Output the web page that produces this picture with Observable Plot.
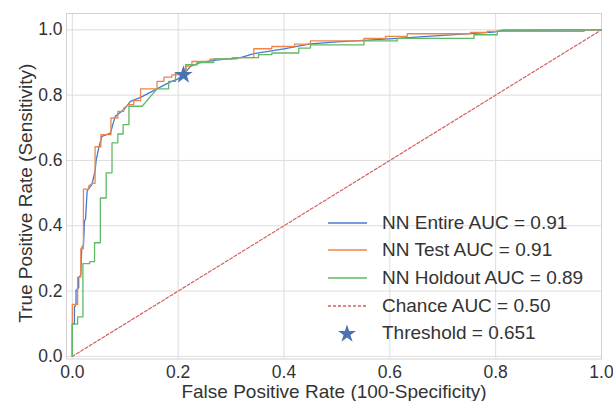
<!DOCTYPE html>
<html>
<head>
<meta charset="utf-8">
<script src="https://cdn.jsdelivr.net/npm/d3@7"></script>
<script src="https://cdn.jsdelivr.net/npm/@observablehq/plot@0.6"></script>
<style>
  html, body { margin: 0; padding: 0; background: #fff; }
  #wrap { position: relative; width: 613px; height: 401px; font-family: "Liberation Sans", Arial, sans-serif; }
  #legend { position: absolute; left: 326px; top: 209px; color: #333; font-size: 19px; }
  #legend .row { display: flex; align-items: center; height: 27.6px; }
  #legend svg { width: 42px; height: 20px; margin-right: 14px; overflow: visible; }
</style>
</head>
<body>
<div id="wrap"><div id="legend"></div></div>
<script>
// ---- data ----
const entireFPR = [0, 0, 0.004, 0.004, 0.007, 0.007, 0.012, 0.012, 0.016, 0.018, 0.021, 0.023, 0.025, 0.028, 0.037, 0.040, 0.043, 0.045, 0.050, 0.056, 0.072, 0.081, 0.097, 0.110, 0.129, 0.160, 0.175, 0.188, 0.200, 0.210, 0.223, 0.242, 0.261, 0.280, 0.318, 0.343, 0.400, 0.450, 0.500, 0.550, 0.614, 0.700, 0.796, 0.812, 1.0];
const entireTPR = [0, 0.100, 0.100, 0.150, 0.160, 0.202, 0.210, 0.240, 0.250, 0.334, 0.340, 0.415, 0.420, 0.507, 0.527, 0.547, 0.568, 0.600, 0.639, 0.674, 0.684, 0.735, 0.755, 0.781, 0.793, 0.819, 0.832, 0.842, 0.850, 0.862, 0.888, 0.900, 0.905, 0.909, 0.915, 0.927, 0.942, 0.957, 0.963, 0.968, 0.974, 0.983, 0.993, 0.999, 1.0];

const testFPR = [0, 0, 0.010, 0.010, 0.016, 0.016, 0.021, 0.021, 0.031, 0.031, 0.038, 0.043, 0.043, 0.054, 0.054, 0.073, 0.073, 0.086, 0.086, 0.097, 0.097, 0.107, 0.116, 0.116, 0.129, 0.129, 0.160, 0.160, 0.173, 0.173, 0.188, 0.188, 0.198, 0.198, 0.215, 0.215, 0.226, 0.226, 0.260, 0.260, 0.302, 0.302, 0.343, 0.343, 0.377, 0.377, 0.420, 0.420, 0.450, 0.450, 0.551, 0.551, 0.592, 0.592, 0.633, 0.633, 0.752, 0.752, 0.784, 0.784, 0.967, 0.967, 1.0];
const testTPR = [0, 0.159, 0.159, 0.243, 0.243, 0.330, 0.330, 0.512, 0.512, 0.522, 0.530, 0.530, 0.642, 0.642, 0.679, 0.679, 0.730, 0.730, 0.750, 0.750, 0.760, 0.771, 0.771, 0.783, 0.783, 0.819, 0.819, 0.842, 0.842, 0.855, 0.855, 0.862, 0.862, 0.869, 0.869, 0.889, 0.889, 0.903, 0.903, 0.910, 0.910, 0.915, 0.915, 0.942, 0.942, 0.949, 0.949, 0.956, 0.956, 0.966, 0.966, 0.974, 0.974, 0.980, 0.980, 0.988, 0.988, 0.992, 0.992, 0.995, 0.995, 1.0, 1.0];

const holdoutFPR = [0, 0, 0.010, 0.010, 0.020, 0.020, 0.033, 0.033, 0.042, 0.042, 0.053, 0.053, 0.064, 0.064, 0.075, 0.075, 0.086, 0.086, 0.096, 0.096, 0.107, 0.107, 0.132, 0.160, 0.182, 0.182, 0.195, 0.195, 0.214, 0.214, 0.236, 0.236, 0.267, 0.267, 0.311, 0.311, 0.352, 0.352, 0.377, 0.377, 0.428, 0.428, 0.450, 0.450, 0.551, 0.551, 0.614, 0.614, 0.759, 0.759, 0.803, 0.803, 0.819, 1.0];
const holdoutTPR = [0, 0.099, 0.099, 0.121, 0.121, 0.284, 0.284, 0.290, 0.290, 0.348, 0.348, 0.485, 0.485, 0.562, 0.562, 0.654, 0.654, 0.681, 0.681, 0.710, 0.710, 0.766, 0.766, 0.819, 0.819, 0.842, 0.842, 0.868, 0.868, 0.893, 0.893, 0.900, 0.900, 0.911, 0.911, 0.915, 0.915, 0.924, 0.924, 0.929, 0.929, 0.944, 0.944, 0.954, 0.954, 0.966, 0.966, 0.974, 0.974, 0.985, 0.985, 0.995, 0.999, 1.0];

const chanceFPR = [0, 1];
const chanceTPR = [0, 1];

const thresholdFPR = [0.210];
const thresholdTPR = [0.862];

const seriesNames = ["NN Entire AUC = 0.91", "NN Test AUC = 0.91", "NN Holdout AUC = 0.89", "Chance AUC = 0.50", "Threshold = 0.651"];
const seriesColors = ["#4878D0", "#EE854A", "#5fb865", "#D65F5F", "#4C72B0"];
const xTicks = [0, 0.2, 0.4, 0.6, 0.8, 1.0];
const yTicks = [0, 0.2, 0.4, 0.6, 0.8, 1.0];
const xLabel = "False Positive Rate (100-Specificity)";
const yLabel = "True Positive Rate (Sensitivity)";

// ---- build tables ----
const toRows = (fx, ty, s) => fx.map((x, i) => ({fpr: x, tpr: ty[i], series: s}));
const curves = [
  ...toRows(entireFPR, entireTPR, seriesNames[0]),
  ...toRows(testFPR, testTPR, seriesNames[1]),
  ...toRows(holdoutFPR, holdoutTPR, seriesNames[2])
];
const chance = toRows(chanceFPR, chanceTPR, seriesNames[3]);
const threshold = toRows(thresholdFPR, thresholdTPR, seriesNames[4]);

const textColor = "#333";
const font = "Liberation Sans, Arial, sans-serif";

const chart = Plot.plot({
  width: 613,
  height: 401,
  marginLeft: 66,
  marginRight: 12,
  marginTop: 13,
  marginBottom: 42.5,
  style: {fontFamily: font, fontSize: "17.5px", color: textColor, background: "#fff"},
  x: {domain: [-0.011, 1.0]},
  y: {domain: [-0.008, 1.05]},
  color: {domain: seriesNames, range: seriesColors},
  marks: [
    Plot.gridX(xTicks, {stroke: "#dddddd", strokeOpacity: 1, strokeWidth: 1}),
    Plot.gridY(yTicks, {stroke: "#dddddd", strokeOpacity: 1, strokeWidth: 1}),
    Plot.frame({stroke: "#d2d2d2", strokeWidth: 1}),
    Plot.axisX({ticks: xTicks, tickFormat: d => d.toFixed(1), tickSize: 0, tickPadding: 7, label: null, fontSize: 17.5, fill: textColor}),
    Plot.axisY({ticks: yTicks, tickFormat: d => d.toFixed(1), tickSize: 0, tickPadding: 4, label: null, fontSize: 17.5, fill: textColor}),
    Plot.text([xLabel], {frameAnchor: "bottom", lineAnchor: "middle", textAnchor: "middle", dy: 33, fontSize: 19, fill: textColor}),
    Plot.text([yLabel], {frameAnchor: "left", lineAnchor: "middle", textAnchor: "middle", dx: -41, dy: 7, rotate: -90, fontSize: 19, fill: textColor}),
    Plot.line(chance, {x: "fpr", y: "tpr", stroke: "series", strokeWidth: 1.2, strokeDasharray: "3,2"}),
    Plot.line(curves, {x: "fpr", y: "tpr", z: "series", stroke: "series", strokeWidth: 1.3}),
    Plot.dot(threshold, {x: "fpr", y: "tpr", fill: "series", symbol: "star", r: 5.8, stroke: "none"})
  ]
});
document.getElementById("wrap").prepend(chart);
chart.style.position = "absolute";
chart.style.left = "0";
chart.style.top = "0";

// ---- legend ----
const legend = document.getElementById("legend");
const starPath = d3.symbol(d3.symbolStar, 101)();
seriesNames.forEach((name, i) => {
  const row = document.createElement("div");
  row.className = "row";
  let sw;
  if (i < 3) sw = `<svg><line x1="2" x2="41" y1="10" y2="10" stroke="${seriesColors[i]}" stroke-width="1.5"/></svg>`;
  else if (i === 3) sw = `<svg><line x1="2" x2="41" y1="10" y2="10" stroke="${seriesColors[i]}" stroke-width="1.3" stroke-dasharray="3,2"/></svg>`;
  else sw = `<svg><path transform="translate(21,11)" d="${starPath}" fill="${seriesColors[i]}"/></svg>`;
  row.innerHTML = sw + `<span>${name}</span>`;
  legend.appendChild(row);
});
</script>
</body>
</html>
